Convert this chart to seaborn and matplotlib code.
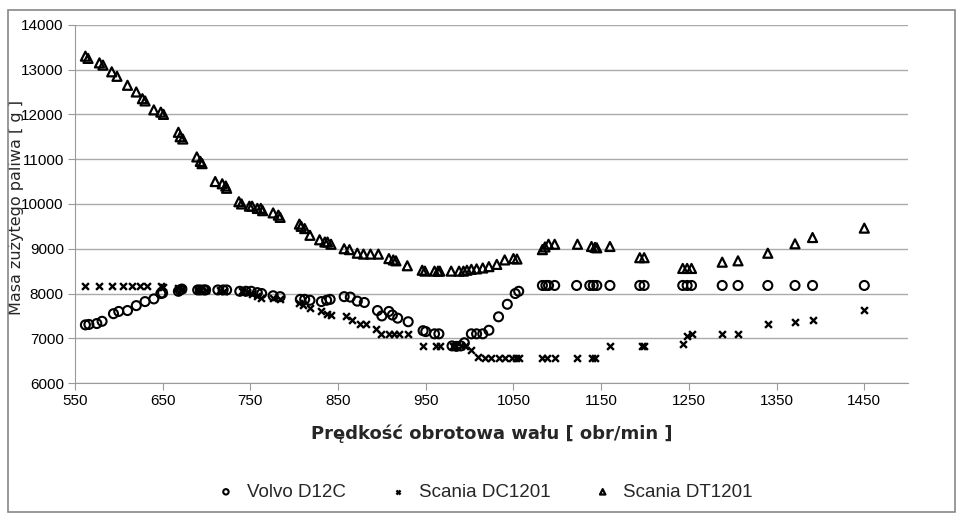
import pandas as pd
import matplotlib
matplotlib.use("Agg")
import matplotlib.pyplot as plt
import seaborn as sns

volvo_x = [562, 566, 575, 581, 594, 600, 610, 620, 630, 640, 648, 650, 668, 670, 672,
           690, 693, 697, 699, 713, 719, 723, 738, 745, 751, 758, 763, 776, 784,
           807, 812, 818, 831, 837, 841, 857, 864, 872, 880, 895, 900, 908, 912, 918, 930,
           947, 950, 960, 965, 980, 985, 990, 994, 1002, 1008, 1015, 1022, 1033, 1043,
           1052, 1056, 1083, 1087, 1090, 1097, 1122, 1137, 1141, 1145, 1160, 1194, 1199,
           1243, 1248, 1253, 1288, 1306, 1340, 1371, 1391, 1450]
volvo_y = [7300, 7310, 7330, 7380, 7550, 7600, 7620, 7730, 7820, 7880, 8000, 8010, 8050, 8080, 8100,
           8080, 8080, 8080, 8080, 8080, 8080, 8080, 8050, 8050, 8050, 8020, 8000, 7950, 7930,
           7870, 7870, 7850, 7820, 7850, 7870, 7930, 7920, 7830, 7800, 7620, 7500, 7600, 7520, 7450, 7370,
           7170, 7150, 7100, 7100, 6830, 6820, 6830, 6900, 7100, 7100, 7100, 7180, 7480, 7760,
           8000, 8050, 8180, 8180, 8180, 8180, 8180, 8180, 8180, 8180, 8180, 8180, 8180,
           8180, 8180, 8180, 8180, 8180, 8180, 8180, 8180, 8180]

dc_x = [562, 577, 592, 605, 615, 624, 632, 648, 651, 668, 672, 690, 694, 699, 715, 720,
        740, 746, 752, 758, 762, 776, 784, 806, 810, 818, 831, 837, 842, 859, 866, 875, 882,
        893, 899, 908, 914, 920, 930, 947, 962, 966, 981, 985, 990, 995, 1002, 1010, 1017, 1024,
        1033, 1040, 1048, 1053, 1056, 1083, 1088, 1097, 1122, 1139, 1143, 1160, 1196, 1199,
        1243, 1248, 1253, 1288, 1306, 1340, 1371, 1391, 1450]
dc_y = [8170, 8170, 8170, 8170, 8170, 8170, 8170, 8170, 8150, 8120, 8100, 8080, 8080, 8080, 8080, 8060,
        8050, 8030, 8000, 7950, 7900, 7900, 7880, 7780, 7750, 7680, 7600, 7550, 7520, 7500, 7420, 7320, 7320,
        7200, 7100, 7100, 7100, 7100, 7100, 6820, 6820, 6820, 6820, 6820, 6820, 6820, 6730, 6580, 6570, 6570,
        6570, 6570, 6570, 6570, 6570, 6570, 6570, 6570, 6570, 6570, 6570, 6820, 6830, 6830,
        6880, 7050, 7100, 7100, 7100, 7320, 7370, 7400, 7630]

dt_x = [562, 565, 578, 582, 592, 598, 610, 620, 627, 630, 640, 648, 651, 668, 670, 673,
        689, 693, 695, 710, 718, 722, 723, 737, 740, 749, 752, 758, 762, 764, 776, 782, 784,
        806, 808, 812, 818, 829, 835, 838, 842, 857, 863, 872, 879, 887, 896, 908, 913, 916, 929,
        946, 949, 960, 964, 966, 979, 988, 993, 997, 1002, 1008, 1015, 1022, 1031, 1040, 1050, 1054,
        1083, 1086, 1090, 1097, 1123, 1139, 1143, 1145, 1160, 1194, 1199, 1243, 1248, 1253,
        1288, 1306, 1340, 1371, 1391, 1450]
dt_y = [13300, 13250, 13150, 13100, 12950, 12850, 12650, 12500, 12350, 12300, 12100, 12050, 12000, 11600, 11500, 11450,
        11050, 10950, 10900, 10500, 10450, 10400, 10350, 10050, 10000, 9950, 9950, 9900, 9900, 9850, 9800, 9750, 9700,
        9550, 9500, 9450, 9300, 9200, 9150, 9150, 9100, 9000, 8980, 8900, 8880, 8880, 8880, 8780, 8750, 8730, 8620,
        8520, 8500, 8500, 8500, 8500, 8500, 8500, 8500, 8520, 8540, 8550, 8570, 8600, 8650, 8750, 8780, 8770,
        8980, 9040, 9100, 9100, 9100, 9050, 9030, 9020, 9050, 8800, 8800, 8560, 8560, 8560,
        8700, 8730, 8900, 9110, 9250, 9460]

series_names = ["Volvo D12C", "Scania DC1201", "Scania DT1201"]
x_ticks = [550, 650, 750, 850, 950, 1050, 1150, 1250, 1350, 1450]
y_ticks = [6000, 7000, 8000, 9000, 10000, 11000, 12000, 13000, 14000]

sns.set_style("white")
plt.rcParams["font.family"] = ["Liberation Sans", "DejaVu Sans"]

fig = plt.figure(figsize=(9.6, 5.17), dpi=100)
ax = fig.add_axes([0.078, 0.259, 0.868, 0.693])

sns.scatterplot(x=volvo_x, y=volvo_y, ax=ax, marker="o", s=42, facecolor="none",
                edgecolor="black", linewidth=1.5, label=series_names[0])
sns.scatterplot(x=dc_x, y=dc_y, ax=ax, marker="x", s=24, color="black",
                linewidth=1.7, label=series_names[1])
sns.scatterplot(x=dt_x, y=dt_y, ax=ax, marker="^", s=42, facecolor="none",
                edgecolor="black", linewidth=1.6, label=series_names[2])

ax.set_xlim(550, 1500)
ax.set_ylim(6000, 14000)
ax.set_xticks(x_ticks)
ax.set_yticks(y_ticks)
ax.tick_params(axis="both", labelsize=11, colors="black", length=5, pad=3, direction="out",
               bottom=True, left=True, color="#999999")
ax.yaxis.grid(True, color="#aaaaaa", linewidth=1)
ax.set_axisbelow(True)
for side in ["top", "right"]:
    ax.spines[side].set_visible(False)
for side in ["left", "bottom"]:
    ax.spines[side].set_color("#999999")

ax.set_xlabel("Prędkość obrotowa wału [ obr/min ]", fontsize=13, fontweight="bold",
              family=["DejaVu Sans"], labelpad=12)
ax.set_ylabel("Masa zużytego paliwa [ g ]", fontsize=11.5, family=["DejaVu Sans"])
ax.yaxis.set_label_coords(-0.061, 0.49)

ax.get_legend().remove()
h, l = ax.get_legend_handles_labels()
fig.legend(h, l, loc="center", bbox_to_anchor=(0.5, 0.048), ncol=3, frameon=False,
           fontsize=13.5, markerscale=0.6, handletextpad=0.1, columnspacing=1.8)

fig.patches.append(plt.Rectangle((0.008, 0.01), 0.987, 0.97, transform=fig.transFigure,
                                 fill=False, edgecolor="#888888", linewidth=1.2))

fig.savefig("out.png", dpi=100)
